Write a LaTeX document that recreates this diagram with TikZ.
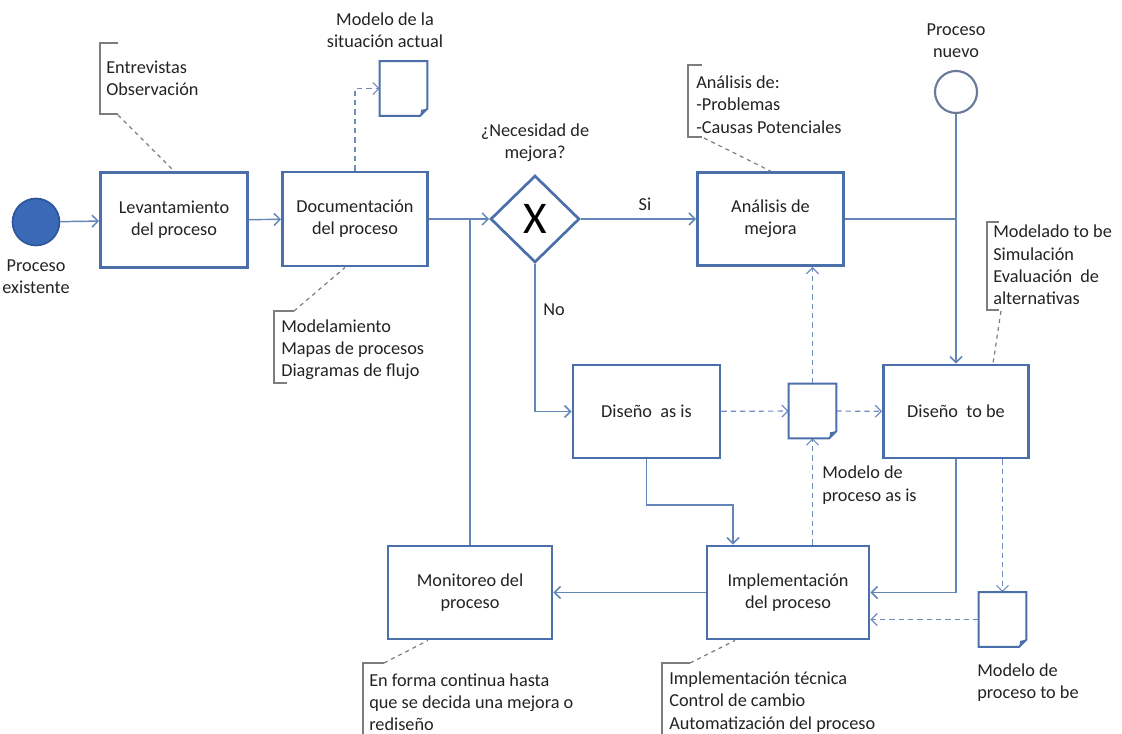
\documentclass[tikz,border=0pt]{standalone}
\usepackage{fontspec}
\setmainfont{Carlito}
\usetikzlibrary{arrows.meta,shapes.geometric,calc}

\definecolor{boxblue}{RGB}{74,111,170}
\definecolor{lineblue}{RGB}{100,133,184}
\definecolor{dashblue}{RGB}{112,141,190}
\definecolor{notegray}{RGB}{125,125,125}
\definecolor{textgray}{RGB}{35,35,35}
\definecolor{startblue}{RGB}{58,106,183}
\definecolor{startedge}{RGB}{44,84,150}
\definecolor{endedge}{RGB}{105,122,152}

% folded-corner document icon drawn around an empty node
\newcommand\docicon[1]{%
  \draw[draw=boxblue, line width=1.5pt, fill=white]
    (#1.north west) -- (#1.north east)
    -- ([yshift=5.25pt]#1.south east) -- ([xshift=-5.25pt]#1.south east)
    -- (#1.south west) -- cycle;
  \fill[boxblue] ([yshift=5.25pt]#1.south east) -- ([xshift=-5.25pt]#1.south east)
    -- ([xshift=-4.5pt,yshift=4.5pt]#1.south east) -- cycle;}

\begin{document}
\begin{tikzpicture}[x=0.75pt,y=-0.75pt,
  font=\fontsize{13.7}{16.7}\selectfont, text=textgray,
  box/.style={draw=boxblue, line width=2.2pt, fill=white, align=center, inner sep=0pt},
  tip/.style={-{Straight Barb[length=4.5pt,width=9pt]}},
  flow/.style={draw=lineblue, line width=1.1pt, tip},
  link/.style={draw=lineblue, line width=1.1pt},
  assoc/.style={draw=dashblue, line width=0.9pt, dash pattern=on 4pt off 3pt, tip},
  note/.style={align=left, anchor=west, inner sep=0pt},
  bracket/.style={draw=notegray, line width=0.9pt},
  notelink/.style={draw=notegray, line width=0.9pt, dash pattern=on 3pt off 3pt},
  docnode/.style={minimum width=35.25pt, minimum height=40.5pt, inner sep=0pt},
  caption/.style={align=center, inner sep=0pt}
]
\useasboundingbox (0,0) rectangle (1122,734);

% events
\node[circle, fill=startblue, draw=startedge, line width=1.2pt,
      minimum size=47*.75pt, inner sep=0pt] (start) at (36,222) {};
\node[circle, fill=white, draw=endedge, line width=1.6pt,
      minimum size=42*.75pt, inner sep=0pt] (pnew) at (956,92) {};

% activities
\node[box, minimum width=147*.75pt, minimum height=95*.75pt] (lev) at (174,220) {Levantamiento\\del proceso};
\node[box, minimum width=145*.75pt, minimum height=94*.75pt] (doc) at (355,219) {Documentación\\del proceso};
\node[box, minimum width=146*.75pt, minimum height=93*.75pt] (ana) at (770.5,219) {Análisis de\\mejora};
\node[box, minimum width=147*.75pt, minimum height=93*.75pt] (asis) at (646.5,411.5) {Diseño~ as is};
\node[box, minimum width=145*.75pt, minimum height=93*.75pt] (tobe) at (956,411.5) {Diseño~ to be};
\node[box, minimum width=162*.75pt, minimum height=93*.75pt] (imp) at (788,592.5) {Implementación\\del proceso};
\node[box, minimum width=164*.75pt, minimum height=93*.75pt] (mon) at (470,592.5) {Monitoreo del\\proceso};

% gateway
\node[diamond, draw=boxblue, line width=2pt, fill=white, inner sep=0pt,
      minimum width=89*.75pt, minimum height=87*.75pt] (gw) at (535,219) {};
\node[font=\fontsize{34}{34}\selectfont, text=black, inner sep=0pt] (gwx) at (535,219) {X};

% data objects
\node[docnode] (dsa) at (403.5,88.5) {};
\node[docnode] (dasis) at (812.5,411) {};
\node[docnode] (dtobe) at (1002.5,619.5) {};

% captions
\node[caption] (lstart) at (36,276.5) {Proceso\\existente};
\node[caption] (lnew) at (956,41) {Proceso\\nuevo};
\node[caption] (lsa) at (385,30) {Modelo de la\\situación actual};
\node[caption] (lgw) at (535,143) {¿Necesidad de\\mejora?};
\node[inner sep=0pt] (lsi) at (645,204) {Si};
\node[note] (lno) at (543,310) {No};
\node[note] (ldasis) at (822,485) {Modelo de\\proceso as is};
\node[note] (ldtobe) at (977,682.5) {Modelo de\\proceso to be};

% annotations
\node[note] (n1) at (106,78.5) {Entrevistas\\Observación};
\node[note] (n2) at (281,349.5) {Modelamiento\\Mapas de procesos\\Diagramas de flujo};
\node[note] (n3) at (696,104.5) {Análisis de:\\-Problemas\\-Causas Potenciales};
\node[note] (n4) at (993,265) {Modelado to be\\Simulación\\Evaluación~ de\\alternativas};
\node[note] (n5) at (369,702) {En forma continua hasta\\que se decida una mejora o\\rediseño};
\node[note] (n6) at (669,702) {Implementación técnica\\Control de cambio\\Automatización del proceso};

% annotation brackets and their links
\draw[bracket] (118,43) -- (100,43) -- (100,114) -- (118,114);
\coordinate (a1) at (118,115);
\draw[notelink] (a1) -- (lev.north);

\draw[bracket] (294,311) -- (274,311) -- (274,383) -- (287,383);
\coordinate (a2) at (294,311);
\draw[notelink] (a2) -- ($(doc.south)+(-10,0)$);

\draw[bracket] (702,65) -- (688,65) -- (688,137) -- (702,137);
\coordinate (a3) at (704,138);
\draw[notelink] (a3) -- (ana.north);

\draw[bracket] (999,222) -- (987,222) -- (987,310) -- (999,310);
\coordinate (a4) at (1001,311);
\draw[notelink] (a4) -- ($(tobe.north)+(37,0)$);

\draw[bracket] (384,663) -- (363,663) -- (363,734);
\coordinate (a5) at (384,663);
\draw[notelink] (a5) -- ($(mon.south)+(-42,0)$);

\draw[bracket] (690,663) -- (662,663) -- (662,734);
\coordinate (a6) at (690,663);
\draw[notelink] (a6) -- ($(imp.south)+(-53,0)$);

% sequence flows
\draw[flow] (start) -- (lev);
\draw[flow] (lev) -- (doc);
\draw[flow] (doc) -- (gw);
\draw[link] (mon.north) -- (mon.north |- gw.west);
\draw[flow] (gw) -- (ana);
\draw[flow] (gw.south) |- (asis.west);
\draw[flow] (pnew) -- (tobe.north);
\draw[link] (ana.east) -- (ana.east -| tobe.north);
\draw[flow] (asis.south) -- ++(0,45.5) -| ($(imp.north)+(-55,0)$);
\draw[flow] (tobe.south) |- (imp.east);
\draw[flow] (imp.west) -- (mon.east);

% data associations
\draw[assoc] (doc.north) |- (dsa.west);
\draw[assoc] (asis) -- (dasis);
\draw[assoc] (dasis) -- (tobe);
\draw[assoc] (dasis.north) -- (ana.south -| dasis.north);
\draw[assoc] (imp.north -| dasis.south) -- (dasis.south);
\draw[assoc] (tobe.south -| dtobe.north) -- (dtobe.north);
\draw[assoc] (dtobe.west) -- (dtobe.west -| imp.east);

% document icons
\docicon{dsa}
\docicon{dasis}
\docicon{dtobe}
\end{tikzpicture}
\end{document}
